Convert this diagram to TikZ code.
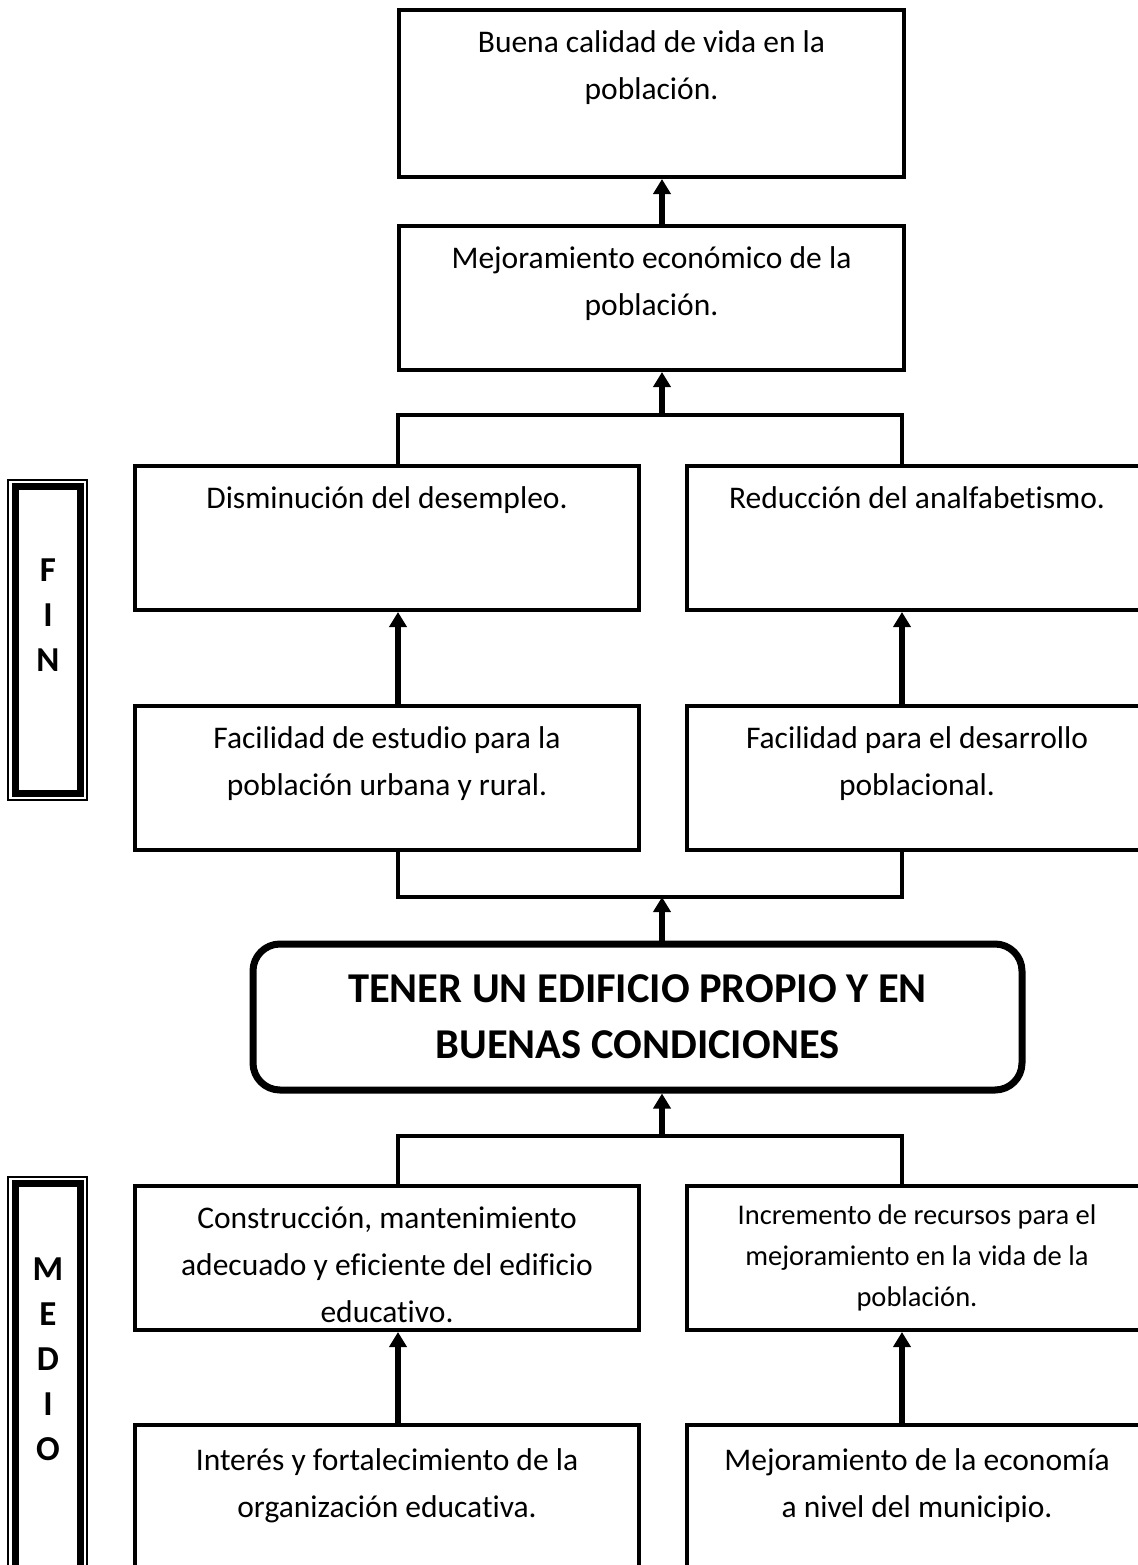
\documentclass[tikz,border=0pt]{standalone}
\usepackage{fontspec}
\setmainfont{Carlito}[Ligatures=CommonOff]
\usetikzlibrary{arrows.meta}
\newcommand\mybx[4]{\parbox[c][#2][t]{#1}{\centering\rule{0pt}{#3}#4\par}}
\begin{document}
\begin{tikzpicture}[x=0.5pt,y=-0.5pt,
  box/.style={draw, line width=2pt, inner sep=0pt, anchor=north west,
    font=\fontsize{15.75pt}{23.5pt}\selectfont},
  smallbox/.style={box, font=\fontsize{14.25pt}{20.5pt}\selectfont},
  titlebox/.style={draw, rounded corners=13.5pt, line width=3.5pt, inner sep=0pt,
    minimum width=384.5pt, minimum height=73pt, align=center,
    font=\bfseries\fontsize{21.25pt}{28pt}\selectfont},
  arr/.style={line width=2.6pt, -{Triangle[width=8.5pt,length=7.5pt]}},
  brk/.style={line width=2.4pt, line join=miter},
  sidef/.style={draw, line width=0.7pt, inner sep=0pt, minimum width=39.5pt},
  sidethick/.style={line width=3.5pt},
  sidetxt/.style={align=center, inner sep=0pt, anchor=north,
    font=\bfseries\fontsize{17.5pt}{22.5pt}\selectfont}]
\useasboundingbox (0,0) rectangle (1138,1565);
\clip (0,0) rectangle (1138,1565);
\fill[white] (0,0) rectangle (1138,1565);

\coordinate (cx) at (662,0);
\coordinate (lx) at (398,0);
\coordinate (rx) at (902,0);
\coordinate (j1) at (662,415);
\coordinate (j2) at (662,897);
\coordinate (j3) at (662,1136);

% boxes
\node[box] (b1) at (397,8) {\mybx{252.5pt}{83.5pt}{21pt}{Buena calidad de vida en la\\población.}};
\node[box] (b2) at (397,224) {\mybx{252.5pt}{72pt}{21pt}{Mejoramiento económico de la\\población.}};
\node[box] (a1) at (133,464) {\mybx{252pt}{72pt}{21pt}{Disminución del desempleo.}};
\node[box] (a2) at (685,464) {\mybx{230pt}{72pt}{21pt}{Reducción del analfabetismo.}};
\node[box] (c1) at (133,704) {\mybx{252pt}{72pt}{21pt}{Facilidad de estudio para la\\población urbana y rural.}};
\node[box] (c2) at (685,704) {\mybx{230pt}{72pt}{21pt}{Facilidad para el desarrollo\\poblacional.}};
\node[titlebox] (t) at (637.5,1017) {TENER UN EDIFICIO PROPIO Y EN\\BUENAS CONDICIONES};
\node[box] (d1) at (133,1184) {\mybx{252pt}{72pt}{21pt}{Construcción, mantenimiento\\adecuado y eficiente del edificio\\educativo.}};
\node[smallbox] (d2) at (685,1184) {\mybx{230pt}{72pt}{19pt}{Incremento de recursos para el\\mejoramiento en la vida de la\\población.}};
\node[box] (e1) at (133,1423) {\mybx{252pt}{100pt}{22.5pt}{Interés y fortalecimiento de la\\organización educativa.}};
\node[box] (e2) at (685,1423) {\mybx{230pt}{100pt}{22.5pt}{Mejoramiento de la economía\\a nivel del municipio.}};

% connectors
\draw[arr] (cx |- b2.north) -- (cx |- b1.south);
\draw[brk] (lx |- a1.north) -- (lx |- j1) -- (rx |- j1) -- (rx |- a2.north);
\draw[arr] (j1) -- (cx |- b2.south);
\draw[arr] (lx |- c1.north) -- (lx |- a1.south);
\draw[arr] (rx |- c2.north) -- (rx |- a2.south);
\draw[brk] (lx |- c1.south) -- (lx |- j2) -- (rx |- j2) -- (rx |- c2.south);
\draw[arr] (cx |- t.north) -- (j2);
\draw[arr] (j3) -- (cx |- t.south);
\draw[brk] (lx |- d1.north) -- (lx |- j3) -- (rx |- j3) -- (rx |- d2.north);
\draw[arr] (lx |- e1.north) -- (lx |- d1.south);
\draw[arr] (rx |- e2.north) -- (rx |- d2.south);

% side frames
\node[sidef, minimum height=160pt] (fin) at (47.5,640) {};
\draw[sidethick] ([shift={(8,7.5)}]fin.north west) rectangle ([shift={(-7,-7.5)}]fin.south east);
\node[sidetxt] (fint) at (48,558) {F\\I\\N};
\node[sidef, minimum height=231.5pt] (medio) at (47.5,1408.5) {};
\draw[sidethick] ([shift={(8,7.5)}]medio.north west) rectangle ([shift={(-7,-7.5)}]medio.south east);
\node[sidetxt] (mediot) at (48,1257) {M\\E\\D\\I\\O};
\end{tikzpicture}
\end{document}
